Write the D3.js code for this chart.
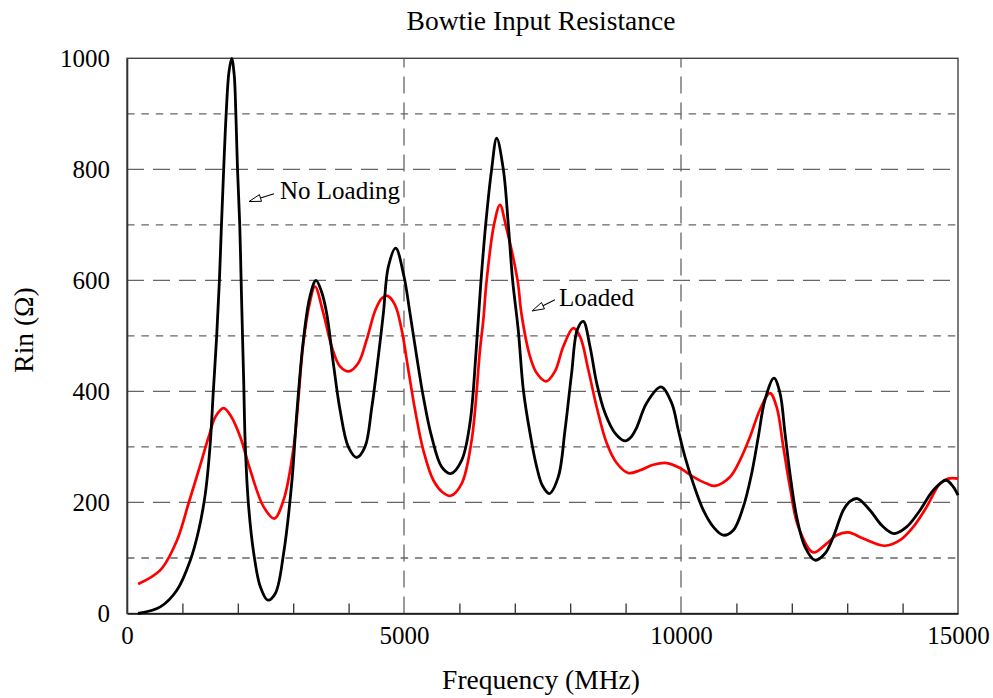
<!DOCTYPE html>
<html><head><meta charset="utf-8">
<script src="https://cdn.jsdelivr.net/npm/d3@7"></script>
<style>
html,body{margin:0;padding:0;background:#fff;}
svg{display:block;font-family:"Liberation Serif","Times New Roman",serif;}
</style></head>
<body>
<svg id="c" width="993" height="698"></svg>
<script>
// ---- data ----
const freqNoLoad = [200,600,900,1143,1294,1414,1498,1558,1619,1668,1705,1745,1790,1840,1890,1935,1965,1995,2035,2060,2085,2106,2136,2196,2287,2407,2540,2677,2828,2978,3065,3183,3300,3411,3510,3604,3724,3845,3995,4146,4296,4417,4537,4628,4718,4850,5000,5108,5229,5349,5500,5680,5843,6041,6191,6300,6383,6474,6582,6673,6793,6883,6961,7063,7154,7274,7395,7500,7623,7785,7906,8026,8128,8236,8357,8478,8628,8808,8989,9100,9200,9380,9639,9832,9952,10072,10222,10403,10583,10763,10944,11124,11275,11395,11516,11678,11787,11877,11967,12088,12238,12418,12599,12749,12929,13050,13182,13411,13622,13844,14073,14314,14554,14783,14915,15000];
const rinNoLoad  = [0,12,42,96,150,216,300,400,500,600,700,800,900,975,1000,970,900,800,700,600,500,420,300,192,109,48,24,36,109,240,361,492,570,600,580,541,451,367,300,281,300,370,463,541,625,658,607,541,463,390,318,264,252,276,343,470,590,700,800,856,800,700,600,510,403,325,264,230,216,246,330,433,511,526,481,415,361,325,311,318,335,379,408,379,330,282,234,186,156,141,150,192,252,318,385,424,397,325,252,174,120,96,108,138,186,202,207,186,159,144,156,186,222,240,228,213];
const freqLoaded = [200,601,903,1113,1294,1474,1600,1745,1880,2045,2226,2467,2659,2828,3009,3183,3300,3393,3544,3694,3845,4007,4176,4326,4477,4600,4699,4837,4958,5078,5199,5349,5530,5700,5843,6041,6221,6372,6432,6492,6624,6733,6835,7050,7120,7274,7395,7563,7725,7876,8056,8177,8327,8478,8658,8839,9049,9260,9500,9742,9982,10222,10463,10613,10884,11064,11245,11425,11606,11726,11847,11967,12118,12388,12629,12809,13019,13290,13682,13953,14193,14434,14675,14825,15000];
const rinLoaded  = [53,78,132,199,258,318,355,370,355,318,258,192,171,205,300,487,560,589,541,481,445,436,451,493,545,568,572,556,511,439,367,294,240,218,212,234,312,475,529,600,700,736,700,600,540,463,433,418,436,481,514,499,439,372,307,271,253,258,268,271,262,246,234,230,246,276,318,367,397,372,300,228,156,110,126,141,146,135,122,132,156,192,234,243,243];
const yTicks = [0,200,400,600,800,1000];
const yGridMajor = [200,400,600,800];
const yGridMinor = [100,300,500,700,900];
const xTicks = [0,5000,10000,15000];
const xGridMajor = [5000,10000];
const xMinorTicks = [1000,2000,3000,4000,6000,7000,8000,9000,11000,12000,13000,14000];
const titleText = "Bowtie Input Resistance";
const xLabel = "Frequency (MHz)";
const yLabel = "Rin (Ω)";
const annotations = [
  {text:"No Loading", tip:[2202,742], tail:[2653,756], at:[2762,747]},
  {text:"Loaded", tip:[7314,545], tail:[7725,565], at:[7798,554]}
];

// ---- chart ----
const svg = d3.select("#c");
const L=127, R=958, T=58.3, B=613.5;
const x = d3.scaleLinear().domain([0,15000]).range([L,R]);
const y = d3.scaleLinear().domain([0,1000]).range([B,T]);
const grid = "#666";
const FONT = "Liberation Serif, Times New Roman, serif";

// horizontal grid
svg.append("g").selectAll("line").data(yGridMajor).join("line")
  .attr("x1",L).attr("x2",R).attr("y1",d=>y(d)).attr("y2",d=>y(d))
  .attr("stroke",grid).attr("stroke-width",1.3).attr("stroke-dasharray","17,9");
svg.append("g").selectAll("line").data(yGridMinor).join("line")
  .attr("x1",L).attr("x2",R).attr("y1",d=>y(d)).attr("y2",d=>y(d))
  .attr("stroke",grid).attr("stroke-width",1.3).attr("stroke-dasharray","7.5,6.9");
// vertical grid
svg.append("g").selectAll("line").data(xGridMajor).join("line")
  .attr("x1",d=>x(d)).attr("x2",d=>x(d)).attr("y1",B).attr("y2",T)
  .attr("stroke",grid).attr("stroke-width",1.3).attr("stroke-dasharray","17,9");

// box
svg.append("rect").attr("x",L).attr("y",T).attr("width",R-L).attr("height",B-T)
  .attr("fill","none").attr("stroke","#444").attr("stroke-width",1.4);

// axes
const xAxis = d3.axisBottom(x).tickValues(xTicks).tickSize(0).tickPadding(13).tickFormat(d3.format("d"));
const gx = svg.append("g").attr("transform",`translate(0,${B})`).call(xAxis);
gx.select(".domain").attr("stroke","#111").attr("stroke-width",1.6);
gx.selectAll("text").attr("font-size",25).attr("font-family",FONT).attr("fill","#000");
const xMinor = d3.axisBottom(x).tickValues(xMinorTicks).tickSize(-10).tickFormat("");
const gxm = svg.append("g").attr("transform",`translate(0,${B})`).call(xMinor);
gxm.select(".domain").remove();
gxm.selectAll("line").attr("stroke","#333").attr("stroke-width",1.3);

const yAxis = d3.axisLeft(y).tickValues(yTicks).tickSize(0).tickPadding(17).tickFormat(d3.format("d"));
const gy = svg.append("g").attr("transform",`translate(${L},0)`).call(yAxis);
gy.select(".domain").attr("stroke","#333").attr("stroke-width",1.6);
gy.selectAll("text").attr("font-size",25).attr("font-family",FONT).attr("fill","#000");

// lines
const line = d3.line().x(d=>x(d[0])).y(d=>y(d[1])).curve(d3.curveCatmullRom.alpha(0.5));
svg.append("path").datum(d3.zip(freqLoaded,rinLoaded)).attr("d",line)
  .attr("fill","none").attr("stroke","#ff0000").attr("stroke-width",2.7).attr("stroke-linejoin","round");
svg.append("path").datum(d3.zip(freqNoLoad,rinNoLoad)).attr("d",line)
  .attr("fill","none").attr("stroke","#000").attr("stroke-width",2.8).attr("stroke-linejoin","round");

// annotations
annotations.forEach(a=>{
  const tx=x(a.tip[0]), ty=y(a.tip[1]), sx=x(a.tail[0]), sy=y(a.tail[1]);
  const dx=sx-tx, dy=sy-ty, len=Math.hypot(dx,dy), ux=dx/len, uy=dy/len;
  const hl=12, hw=3.5;
  const bx=tx+ux*hl, by=ty+uy*hl;
  svg.append("line").attr("x1",sx).attr("y1",sy).attr("x2",bx).attr("y2",by)
    .attr("stroke","#000").attr("stroke-width",1.1);
  svg.append("path").attr("d",`M${tx},${ty}L${bx-uy*hw},${by+ux*hw}L${bx+uy*hw},${by-ux*hw}Z`)
    .attr("fill","#fff").attr("stroke","#000").attr("stroke-width",1);
  svg.append("text").attr("x",x(a.at[0])).attr("y",y(a.at[1]))
    .attr("font-size",25).attr("fill","#000").text(a.text);
});

// titles
svg.append("text").attr("x",541).attr("y",30).attr("text-anchor","middle")
  .attr("font-size",27.5).attr("fill","#000").text(titleText);
svg.append("text").attr("x",541).attr("y",689).attr("text-anchor","middle")
  .attr("font-size",27.5).attr("fill","#000").text(xLabel);
svg.append("text").attr("transform",`translate(33,330) rotate(-90)`).attr("text-anchor","middle")
  .attr("font-size",27.5).attr("fill","#000").text(yLabel);
</script>
</body></html>
